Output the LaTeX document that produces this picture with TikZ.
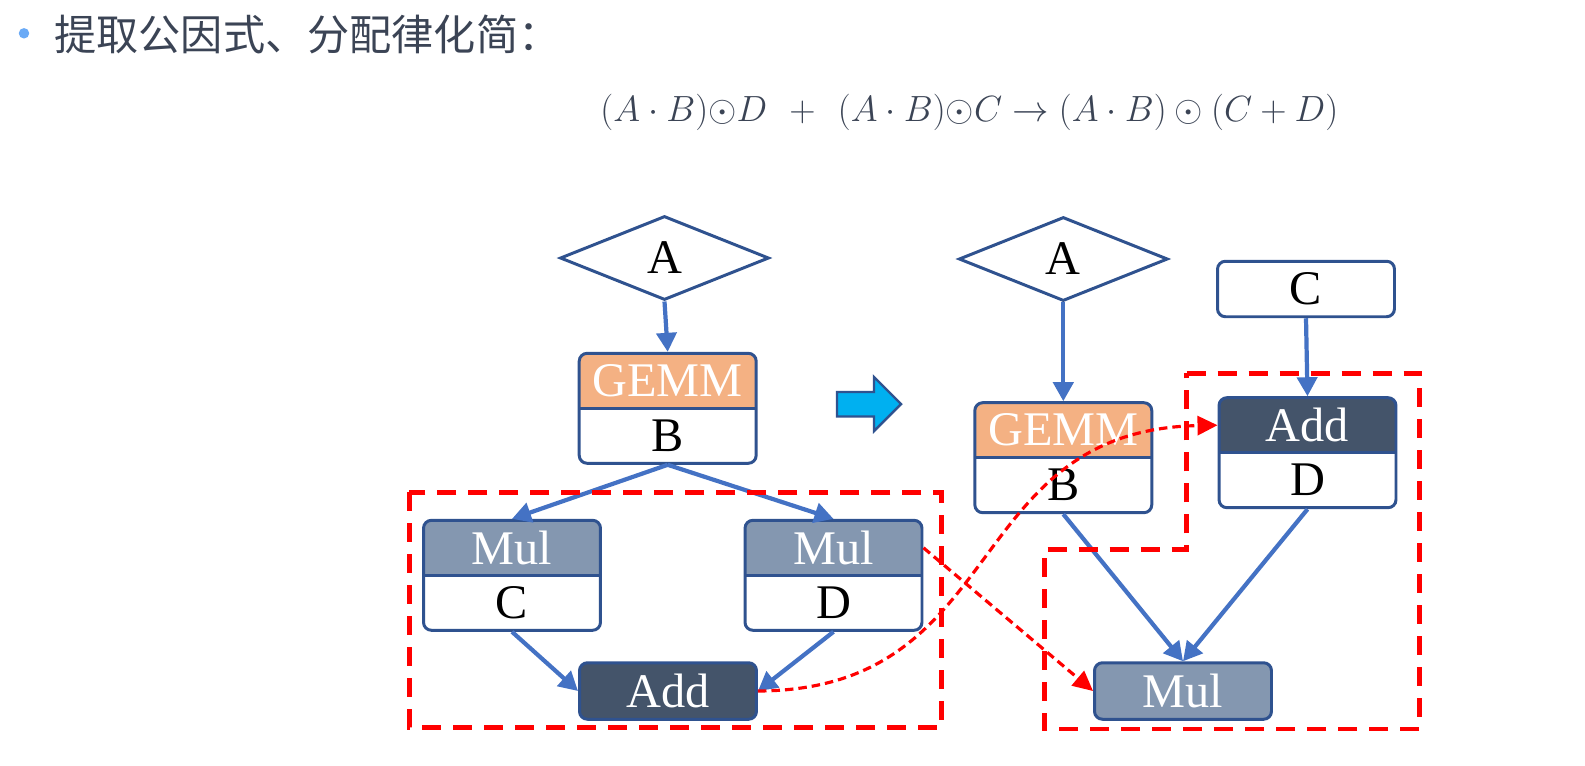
\documentclass[tikz,border=0pt]{standalone}
\usepackage{fontspec}
\newfontfamily\cjk{Noto Sans CJK SC}
\newfontfamily\tnr{Liberation Serif}
\usetikzlibrary{shapes.geometric,arrows.meta}

\definecolor{nodeblue}{HTML}{2F528F}
\definecolor{flowblue}{HTML}{4472C4}
\definecolor{gemmorange}{HTML}{F4B183}
\definecolor{mulgray}{HTML}{8497B0}
\definecolor{adddark}{HTML}{44546A}
\definecolor{titlegray}{HTML}{3B4455}
\definecolor{bulletblue}{HTML}{6AAAF6}
\definecolor{arrowcyan}{HTML}{00B0F0}

\begin{document}
\begin{tikzpicture}[
    x=0.02cm, y=-0.02cm,
    opbox/.style={
        rectangle, draw=nodeblue, line width=1.7pt, rounded corners=4.5pt,
        fill=white, minimum width=3.54cm, minimum height=2.2cm, inner sep=0pt,
        path picture={
            \fill[#1, sharp corners] (path picture bounding box.north west)
                rectangle (path picture bounding box.east);
            \draw[nodeblue, line width=1.7pt, sharp corners]
                (path picture bounding box.west) -- (path picture bounding box.east);
        }
    },
    opsingle/.style={
        rectangle, draw=nodeblue, line width=1.7pt, rounded corners=4.5pt,
        fill=#1, minimum width=3.54cm, minimum height=1.13cm, inner sep=0pt,
        text=white, font=\tnr\fontsize{27.5}{30}\selectfont
    },
    tensor/.style={
        diamond, draw=nodeblue, line width=1.7pt, fill=white, aspect=2.5,
        minimum width=4.18cm, minimum height=1.68cm, inner sep=0pt,
        font=\tnr\fontsize{27.5}{30}\selectfont
    },
    hdr/.style={font=\tnr\fontsize{27.5}{30}\selectfont, text=white, inner sep=0pt},
    lbl/.style={font=\tnr\fontsize{27.5}{30}\selectfont, text=black, inner sep=0pt},
    edgeflow/.style={-{Triangle[length=0.38cm,width=0.4cm]}, flowblue, line width=2.4pt},
    moveflow/.style={-{Triangle[length=0.4cm,width=0.38cm]}, red, line width=1.8pt,
        dash pattern=on 0.17cm off 0.1cm},
    fusebox/.style={red, line width=2.8pt, dash pattern=on 0.38cm off 0.24cm}
]
\useasboundingbox (0,0) rectangle (1585,765);

% --- Title and formula ---
\fill[bulletblue] (24,33.3) circle [radius=0.105cm];
\node[anchor=base west, inner sep=0pt, text=titlegray,
      font=\cjk\fontsize{24}{29}\selectfont] (title) at (54,50.5)
    {提取公因式、分配律化简：};
\node[anchor=base west, inner sep=0pt, text=titlegray,
      font=\fontsize{20}{24}\selectfont] (formula) at (600,121.7)
    {$(A\cdot B){\odot}D\;\mkern2mu+\;\mkern2mu(A\cdot B){\odot}C\rightarrow(A\cdot B)\odot(C+D)$};

% --- Left graph ---
\node[tensor] (a1) at (664.5,258) {A};
\node[opbox=gemmorange] (gemm1) at (667.7,408.3) {};
\node[hdr] (gemm1t) at ([yshift=0.55cm]gemm1.center) {GEMM};
\node[lbl] (b1) at ([yshift=-0.55cm]gemm1.center) {B};

\node[opbox=mulgray] (mulc) at (512,575.3) {};
\node[hdr] (mulct) at ([yshift=0.55cm]mulc.center) {Mul};
\node[lbl] (c1) at ([yshift=-0.55cm]mulc.center) {C};

\node[opbox=mulgray] (muld) at (833.5,575.3) {};
\node[hdr] (muldt) at ([yshift=0.55cm]muld.center) {Mul};
\node[lbl] (d1) at ([yshift=-0.55cm]muld.center) {D};

\node[opsingle=adddark] (add1) at (668,691) {Add};

% --- Middle arrow ---
\draw[nodeblue, line width=1.4pt, fill=arrowcyan]
    (837,392) -- (874,392) -- (874,377) -- (901,404)
    -- (874,431) -- (874,416.5) -- (837,416.5) -- cycle;

% --- Right graph ---
\node[tensor] (a2) at (1063.3,259) {A};
\node[rectangle, draw=nodeblue, line width=1.7pt, rounded corners=4.5pt,
      minimum width=3.54cm, minimum height=1.11cm, inner sep=0pt,
      font=\tnr\fontsize{27.5}{30}\selectfont] (c2) at (1306,289) {C};

\node[opbox=gemmorange] (gemm2) at (1063.3,457.7) {};
\node[hdr] (gemm2t) at ([yshift=0.55cm]gemm2.center) {GEMM};
\node[lbl] (b2) at ([yshift=-0.55cm]gemm2.center) {B};

\node[opbox=adddark] (add2) at (1307.5,452.7) {};
\node[hdr] (add2t) at ([yshift=0.55cm]add2.center) {Add};
\node[lbl] (d2) at ([yshift=-0.55cm]add2.center) {D};

\node[opsingle=mulgray] (mul3) at (1183,691) {Mul};

% --- Data edges ---
\draw[edgeflow] (a1.south)    -- (gemm1.north);
\draw[edgeflow] (gemm1.south) -- (mulc.north);
\draw[edgeflow] (gemm1.south) -- (muld.north);
\draw[edgeflow] (mulc.south)  -- (add1.west);
\draw[edgeflow] (muld.south)  -- (add1.east);

\draw[edgeflow] (a2.south)    -- (gemm2.north);
\draw[edgeflow] (c2.south)    -- (add2.north);
\draw[edgeflow] (gemm2.south) -- (mul3.north);
\draw[edgeflow] (add2.south)  -- (mul3.north);

% --- Fusion regions ---
\draw[fusebox] (409.3,492.3) rectangle (941.7,727.3);
\draw[fusebox] (1186.7,373.3) -- (1419.5,373.3) -- (1419.5,729) -- (1044.3,729)
    -- (1044.3,549.3) -- (1186.7,549.3) -- cycle;

% --- Rewrites ---
\draw[moveflow] (add1.east) .. controls (1010,690) and (960,430) .. ([yshift=0.55cm]add2.west);
\draw[moveflow] ([yshift=0.55cm]muld.east) -- (mul3.west);

\end{tikzpicture}
\end{document}
